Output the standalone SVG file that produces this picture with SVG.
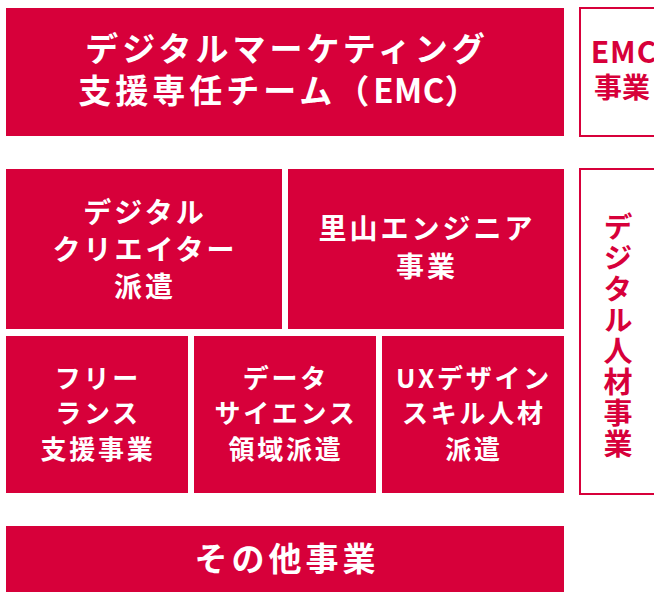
<svg xmlns="http://www.w3.org/2000/svg" width="654" height="592" viewBox="0 0 654 592">
<style>
.box{fill:#d7003a}
.out{fill:#fff;stroke:#d7003a;stroke-width:2}
text{font-family:"Noto Sans CJK JP","Noto Sans",sans-serif;font-weight:700;text-anchor:middle}
.w{fill:#fff}
.r{fill:#d7003a}
.big{font-size:33px;letter-spacing:4px}
.mid{font-size:28px;letter-spacing:3px}
.sm{font-size:26px;letter-spacing:2.75px}
</style>
<rect width="654" height="592" fill="#fff"/>
<g id="emc-team">
<rect class="box" x="6" y="8" width="558" height="128"/>
<text class="w big"><tspan x="287" y="61">デジタルマーケティング</tspan><tspan x="280" y="103">支援専任チーム（<tspan style="letter-spacing:0.5px">EMC</tspan>）</tspan></text>
</g>
<g id="emc-business">
<rect class="out" x="580" y="8" width="86" height="128"/>
<text class="r"><tspan x="624" y="63" style="font-size:30px;letter-spacing:1px">EMC</tspan><tspan x="622" y="98" style="font-size:28px">事業</tspan></text>
</g>
<g id="digital-creator">
<rect class="box" x="6" y="169" width="276" height="160"/>
<text class="w mid"><tspan x="145" y="223">デジタル</tspan><tspan x="145" y="260">クリエイター</tspan><tspan x="145" y="297">派遣</tspan></text>
</g>
<g id="satoyama">
<rect class="box" x="288" y="169" width="276" height="160"/>
<text class="w mid"><tspan x="427" y="239">里山エンジニア</tspan><tspan x="427" y="277">事業</tspan></text>
</g>
<g id="freelance">
<rect class="box" x="6" y="336" width="182" height="157"/>
<text class="w sm"><tspan x="98" y="388">フリー</tspan><tspan x="98" y="423">ランス</tspan><tspan x="98" y="459">支援事業</tspan></text>
</g>
<g id="data-science">
<rect class="box" x="194" y="336" width="182" height="157"/>
<text class="w sm"><tspan x="286" y="388">データ</tspan><tspan x="286" y="423">サイエンス</tspan><tspan x="286" y="459">領域派遣</tspan></text>
</g>
<g id="ux-design">
<rect class="box" x="382" y="336" width="182" height="157"/>
<text class="w sm"><tspan x="474" y="388">UXデザイン</tspan><tspan x="474" y="423">スキル人材</tspan><tspan x="474" y="459">派遣</tspan></text>
</g>
<g id="digital-hr">
<rect class="out" x="580" y="169" width="86" height="325"/>
<text class="r" x="618" y="336" style="font-size:29px;letter-spacing:2px;writing-mode:vertical-rl">デジタル人材事業</text>
</g>
<g id="other">
<rect class="box" x="6" y="526" width="558" height="70"/>
<text class="w big" x="287" y="571">その他事業</text>
</g>
<g id="connectors"/>
</svg>
